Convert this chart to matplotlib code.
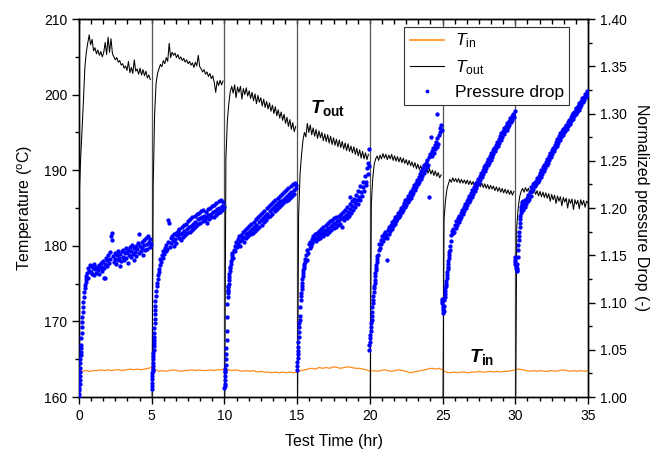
import numpy as np
import matplotlib
matplotlib.use("Agg")
import matplotlib.pyplot as plt
from matplotlib.ticker import MultipleLocator, AutoMinorLocator
from matplotlib.lines import Line2D

plt.rcParams['font.family'] = ['Liberation Sans', 'DejaVu Sans']
plt.rcParams['mathtext.fontset'] = 'custom'
plt.rcParams['mathtext.rm'] = 'Liberation Sans'
plt.rcParams['mathtext.it'] = 'Liberation Sans:italic'
plt.rcParams['mathtext.bf'] = 'Liberation Sans:bold'
plt.rcParams['mathtext.bfit'] = 'Liberation Sans:bold:italic'

# ---------------- data ----------------
seg_starts = [0, 5, 10, 15, 20, 25, 30]
break_times = [5, 10, 15, 20, 25, 30]

# T_in (deg C), sampled every 0.25 h from 0 to 35
t_in = [163.5,163.4,163.5,163.4,163.5,163.5,163.6,163.5,163.6,163.5,163.6,163.6,163.5,163.6,163.7,163.6,163.7,163.6,163.7,163.8,
        163.9,163.6,163.4,163.5,163.4,163.5,163.6,163.5,163.4,163.5,163.5,163.6,163.5,163.6,163.5,163.5,163.6,163.5,163.6,163.6,
        163.7,163.6,163.5,163.6,163.5,163.4,163.5,163.4,163.5,163.3,163.4,163.3,163.3,163.2,163.3,163.2,163.3,163.2,163.3,163.2,
        163.3,163.5,163.6,163.7,163.8,163.7,163.9,163.8,163.9,163.8,164.0,163.9,163.8,163.9,164.0,163.9,163.8,163.8,163.7,163.6,
        163.4,163.5,163.4,163.5,163.6,163.5,163.4,163.5,163.6,163.5,163.4,163.2,163.3,163.4,163.5,163.6,163.7,163.8,163.7,163.8,
        163.6,163.3,163.2,163.3,163.2,163.3,163.3,163.2,163.3,163.3,163.4,163.3,163.3,163.4,163.3,163.4,163.3,163.4,163.4,163.5,
        163.6,163.7,163.6,163.5,163.4,163.5,163.4,163.5,163.4,163.4,163.5,163.4,163.5,163.6,163.5,163.4,163.5,163.4,163.5,163.4,163.5]

# T_out (deg C), sampled every 0.1 h, one list per 5 h run
t_out_1 = [186,191,195,199,203.5,205.6,206.8,207.9,206.6,207.3,205.8,206.2,205.4,205.9,205.2,205.7,205.0,205.6,206.9,205.3,
           207.6,205.6,207.4,205.4,205.0,204.6,204.9,204.3,204.5,203.9,204.1,203.5,203.8,203.2,204.4,202.9,203.6,202.8,204.6,203.1,
           203.4,202.7,203.5,202.6,203.3,202.5,203.1,202.2,202.6,202.0]
t_out_2 = [150,188,197.5,201.5,202.8,203.4,204.0,203.7,204.5,204.1,204.9,204.4,206.8,204.9,205.6,205.2,205.5,204.9,205.3,204.7,
           205.0,204.5,204.8,204.3,204.6,204.1,204.4,203.9,204.2,203.6,204.3,203.8,205.2,203.7,203.4,203.0,203.3,202.7,203.0,202.4,
           202.8,202.1,202.5,201.6,200.3,201.8,201.2,201.9,201.3,201.8]
t_out_3 = [150,191.5,196.5,198.8,200.4,201.1,200.2,201.3,199.6,201.0,200.3,201.1,199.4,200.8,200.0,200.9,199.8,200.5,199.5,200.3,
           199.2,200.1,198.8,199.9,199.0,199.6,198.5,199.4,198.3,199.1,198.1,198.9,197.8,198.6,197.5,198.4,197.2,198.0,196.9,197.7,
           196.6,197.4,196.2,197.0,195.8,196.7,195.4,196.3,195.1,195.8]
t_out_4 = [150,184,189.5,192.0,194.0,195.0,194.4,196.2,195.0,196.0,194.7,195.6,194.5,195.4,194.2,195.2,194.3,195.0,193.9,194.8,
           193.8,194.7,193.6,194.5,193.4,194.3,193.3,194.1,193.1,194.0,193.0,193.8,192.8,193.6,192.6,193.5,192.5,193.2,192.3,193.1,
           192.1,192.9,191.9,192.7,191.6,192.5,191.5,192.3,191.4,192.1]
t_out_5 = [150,185.5,189.0,190.8,191.5,191.9,191.3,192.0,191.5,192.2,191.6,192.1,191.4,192.0,191.5,192.1,191.3,191.9,191.2,191.8,
           191.1,191.7,191.0,191.6,190.9,191.4,190.7,191.3,190.6,191.1,190.4,191.0,190.2,190.8,190.1,190.6,189.9,190.5,189.8,190.3,
           189.6,190.2,189.5,190.0,189.3,189.9,189.2,189.7,189.0,189.4]
t_out_6 = [150,183.5,186.0,187.5,188.2,188.8,188.4,189.0,188.5,188.9,188.4,188.9,188.3,188.8,188.3,188.7,188.2,188.7,188.1,188.6,
           188.1,188.5,188.0,188.5,187.9,188.4,187.8,188.3,187.7,188.2,187.6,188.1,187.5,188.0,187.5,187.9,187.3,187.8,187.2,187.7,
           187.1,187.6,187.0,187.5,186.9,187.4,186.8,187.3,186.7,187.2]
t_out_7 = [150,182.5,185.0,186.5,187.2,187.6,187.1,187.7,187.2,187.6,187.0,187.5,186.9,187.4,186.8,187.3,186.6,187.2,186.5,187.1,
           186.4,187.0,186.3,186.9,185.9,186.8,186.1,186.7,185.6,186.6,185.9,186.5,185.3,186.4,185.8,186.3,185.0,186.2,185.6,186.2,
           184.8,186.1,185.5,186.0,184.9,186.1,185.4,186.0,185.1,185.9,185.7]
t_out_runs = [t_out_1, t_out_2, t_out_3, t_out_4, t_out_5, t_out_6, t_out_7]

# Normalized pressure drop, stored as thousandths above 1.000
# start-up part of each run: time offsets (h) from run start and values
p_rise_dt = [
    [0,.01,.02,.03,.04,.05,.06,.07,.08,.09,.10,.11,.12,.13,.14,.16,.18,.20,.22,.24,.26,.28,.30,.33,.36,.39,.42,.45,.48,.51],
    [0,.01,.02,.03,.04,.05,.06,.07,.08,.09,.10,.11,.12,.13,.14,.15,.16,.17,.18,.19,.20,.21,.22,.23,.24,.26,.28,.30,.33,.36,.40,.44,.48,.52],
    [0,.01,.02,.03,.04,.05,.06,.07,.08,.10,.12,.14,.16,.18,.20,.21,.22,.23,.24,.25,.26,.27,.28,.30,.32,.34,.36,.38,.40,.43,.46,.49,.52],
    [0,.01,.02,.03,.04,.05,.06,.08,.10,.12,.14,.16,.18,.20,.22,.24,.26,.28,.30,.32,.34,.36,.38,.40,.42,.44,.46,.48,.51],
    [-.05,-.03,0,.02,.04,.06,.08,.10,.12,.14,.16,.18,.20,.22,.24,.26,.28,.30,.32,.34,.36,.38,.40,.42,.44,.46,.48,.51],
    [-.06,-.04,-.02,0,.02,.04,.06,.08,.10,.12,.14,.16,.18,.20,.22,.24,.26,.28,.30,.32,.34,.36,.38,.40,.42,.44,.46,.48,.51],
    [-.05,-.03,-.01,.01,.03,.05,.07,.09,.11,.13,.15,.17,.19,.21,.23,.25,.27,.29,.31,.33,.35,.37,.39,.41,.43,.45,.47,.49,.52],
]
p_rise_val = [
    [0,3,7,10,14,18,22,26,31,36,40,44,48,52,55,62,68,74,79,85,90,95,101,106,111,115,119,122,125,128],
    [9,12,15,19,22,25,28,30,33,36,40,43,47,50,54,57,60,64,68,73,78,83,88,92,96,102,107,112,117,121,125,129,132,135],
    [10,14,18,12,22,26,30,28,34,40,46,52,60,70,85,98,106,110,113,116,112,118,120,124,127,130,133,136,138,141,144,147,150],
    [29,33,37,41,45,49,53,58,63,69,74,78,82,86,95,103,107,110,114,117,121,125,128,131,134,136,139,141,143],
    [50,55,58,62,66,70,74,78,82,86,90,95,99,103,107,111,115,118,121,124,128,131,134,137,140,143,146,149],
    [104,100,102,96,92,94,89,91,96,103,106,109,112,115,117,120,123,126,129,132,135,138,141,144,147,150,153,156,160],
    [145,148,141,143,139,137,140,134,136,133,141,148,156,161,166,170,175,180,184,188,192,195,198,201,204,199,206,203,207],
]
# rest of each run: samples every 0.05 h from 0.55 h to 4.95 h after run start
p_run_1 = [131,126,137,133,140,132,139,130,136,141,129,135,138,131,137,134,140,130,136,142,133,138,144,136,126,141,147,139,145,150,
           142,153,146,170,166,174,149,143,152,146,141,150,145,155,147,139,151,144,154,148,156,145,152,158,147,153,142,156,150,159,
           148,155,161,151,145,158,153,160,149,157,163,172,152,160,155,164,158,150,166,161,156,168,162,157,170,164,159,167,162]
p_run_2 = [140,146,143,150,147,155,151,158,154,161,157,164,187,184,159,168,163,170,165,160,172,167,174,163,171,176,168,178,172,166,
           180,174,169,182,176,171,183,178,174,186,180,175,188,181,177,190,183,179,192,185,181,194,188,183,195,189,184,197,190,186,
           198,192,187,196,191,184,199,193,188,200,194,190,202,196,191,203,197,193,205,199,195,207,200,196,208,202,198,206,201]
p_run_3 = [152,147,156,160,155,164,159,167,162,170,165,160,171,167,175,169,164,177,172,168,179,174,170,181,176,172,183,178,174,185,
           180,176,188,182,178,190,185,180,193,187,182,195,189,185,197,192,187,200,194,190,202,197,192,204,199,194,206,201,197,209,
           203,199,211,205,201,213,207,203,215,209,205,217,211,207,219,213,209,221,215,211,223,217,213,225,219,215,227,221,224]
p_run_4 = [146,150,145,156,152,162,158,164,160,167,163,170,166,172,168,165,174,170,167,176,172,168,178,174,170,180,176,172,182,177,
           173,184,179,175,186,181,177,187,183,179,189,184,180,190,186,182,192,187,183,194,189,180,196,191,187,198,193,189,201,196,
           192,204,199,195,207,202,198,210,205,201,214,208,204,218,212,208,223,217,213,228,222,218,234,228,224,242,236,248,244]
p_run_5 = [150,156,162,158,166,162,170,165,172,168,175,171,168,145,177,173,180,176,182,178,185,181,187,183,190,186,192,188,195,191,
           197,193,200,196,202,198,205,201,208,203,210,206,213,208,216,211,218,214,221,216,224,219,227,222,230,225,233,228,236,231,
           239,234,242,237,245,240,248,243,251,246,254,212,257,275,260,255,264,258,267,262,270,265,274,268,277,285,280,288,283]
p_run_6 = [165,171,176,174,178,175,182,179,186,182,189,185,192,188,195,191,198,194,201,197,204,200,207,203,210,206,213,209,216,212,
           219,215,222,218,225,221,228,224,231,227,234,230,237,233,240,236,243,239,246,242,249,245,252,248,255,251,258,254,261,257,
           264,260,267,263,270,266,273,269,276,272,279,275,282,278,285,281,287,283,290,286,292,288,295,291,297,293,300,296,303]
p_run_7 = [198,205,201,208,204,211,207,214,210,217,213,222,218,225,220,227,223,229,225,232,228,234,230,237,233,240,236,243,239,246,
           242,249,245,252,248,255,251,258,254,261,257,264,260,267,263,270,266,273,269,276,272,279,275,281,277,284,280,286,282,288,
           284,291,287,293,289,296,292,298,294,301,297,303,299,306,302,308,304,311,307,313,309,316,312,318,314,321,317,324,320]
p_runs = [p_run_1, p_run_2, p_run_3, p_run_4, p_run_5, p_run_6, p_run_7]
# a few scattered readings (time h, thousandths above 1)
p_extra_t = [24.72, 24.62, 19.92, 18.6, 1.8]
p_extra_v = [311, 299, 262, 212, 126]

# ---------------- figure ----------------
fig = plt.figure(figsize=(6.54, 4.53), dpi=100)
ax = fig.add_axes([0.1208, 0.1236, 0.7783, 0.8344])
ax2 = ax.twinx()

orange = '#ff8c1a'
blue = '#0000ff'
ms = 3.1

# T_in
tin_t = np.linspace(0, 35, len(t_in))
ax.plot(tin_t, t_in, color=orange, lw=0.9, zorder=3)

# T_out
for s, vals in zip(seg_starts, t_out_runs):
    tt = s + 0.1 * np.arange(len(vals))
    ax.plot(tt, vals, color='black', lw=0.75, zorder=4)
for b in break_times:
    ax.axvline(b, color='#555555', lw=0.9, zorder=2)

# pressure drop
for s, dts, rv, pv in zip(seg_starts, p_rise_dt, p_rise_val, p_runs):
    tt = np.concatenate([s + np.array(dts), np.linspace(s + 0.55, s + 4.95, len(pv))])
    vv = 1 + np.concatenate([np.array(rv), np.array(pv)]) / 1000.0
    ax2.plot(tt, vv, 'o', color=blue, ms=ms, mew=0, zorder=5)
ax2.plot(p_extra_t, 1 + np.array(p_extra_v) / 1000.0, 'o', color=blue, ms=ms, mew=0)

# axes
ax.set_xlim(0, 35)
ax.set_ylim(160, 210)
ax2.set_ylim(1.00, 1.40)
ax.xaxis.set_major_locator(MultipleLocator(5))
ax.xaxis.set_minor_locator(AutoMinorLocator(6))
ax.yaxis.set_major_locator(MultipleLocator(10))
ax.yaxis.set_minor_locator(MultipleLocator(5))
ax2.yaxis.set_major_locator(MultipleLocator(0.05))
ax2.yaxis.set_minor_locator(MultipleLocator(0.025))
ax2.yaxis.set_major_formatter(matplotlib.ticker.FormatStrFormatter('%.2f'))

ax.tick_params(axis='both', which='major', direction='out', length=5, width=1, labelsize=10)
ax.tick_params(axis='both', which='minor', direction='out', length=3, width=1)
ax2.tick_params(axis='y', which='major', direction='out', length=5, width=1, labelsize=10)
ax2.tick_params(axis='y', which='minor', direction='out', length=3, width=1)

top = ax.secondary_xaxis('top')
top.xaxis.set_major_locator(MultipleLocator(5))
top.xaxis.set_minor_locator(AutoMinorLocator(6))
top.tick_params(which='both', direction='in', length=3.5, width=1, labeltop=False)

for a in (ax, ax2):
    for sp in a.spines.values():
        sp.set_linewidth(1.0)

ax.set_xlabel('Test Time (hr)', fontsize=11.5, labelpad=8)
ax.set_ylabel('Temperature ($^{\\mathrm{o}}$C)', fontsize=11.5, labelpad=6)
ax2.set_ylabel('Normalized pressure Drop (-)', fontsize=11.5, rotation=270, labelpad=16)

ax.text(15.9, 197.6, r'$\mathbfit{T}_{\mathbf{out}}$', fontsize=14, zorder=6)
ax.text(26.8, 164.6, r'$\mathbfit{T}_{\mathbf{in}}$', fontsize=14, zorder=6)

handles = [Line2D([], [], color=orange, lw=1.2),
           Line2D([], [], color='black', lw=0.8),
           Line2D([], [], marker='o', ls='none', color=blue, ms=2.7, mew=0)]
labels = [r'$T_{\mathrm{in}}$', r'$T_{\mathrm{out}}$', 'Pressure drop']
leg = ax2.legend(handles, labels, loc='upper right', bbox_to_anchor=(0.963, 0.98),
                 fontsize=12.5, frameon=True, fancybox=False, edgecolor='#333333',
                 framealpha=1, handlelength=2.0, labelspacing=0.45, borderpad=0.3,
                 handletextpad=0.6, borderaxespad=0)
leg.get_frame().set_linewidth(0.8)

fig.savefig('out.png', dpi=100)
